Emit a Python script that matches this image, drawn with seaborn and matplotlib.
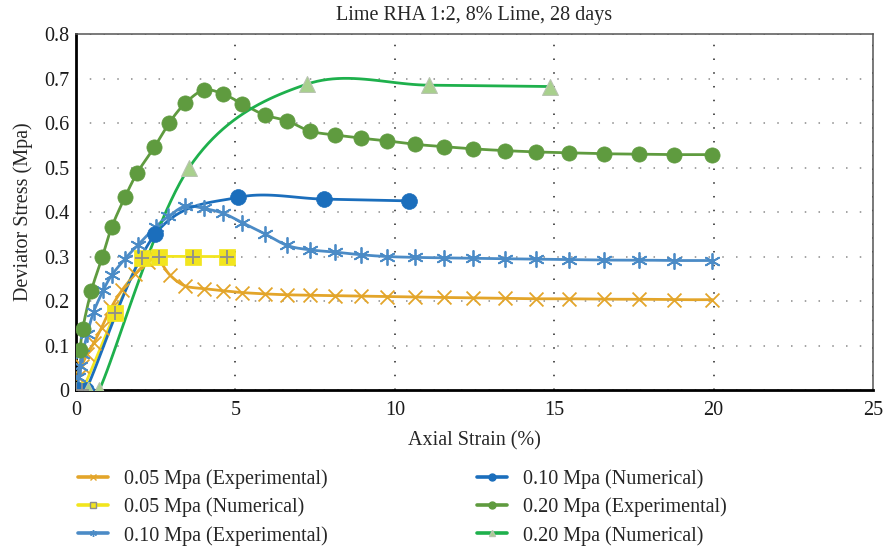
import numpy as np
import pandas as pd
import matplotlib
matplotlib.use("Agg")
import matplotlib.pyplot as plt
from matplotlib.lines import Line2D
from matplotlib.ticker import FuncFormatter
import seaborn as sns

# ---- data: axial strain (%) vs deviator stress (MPa) ----
exp005_x = [0.05, 0.18, 0.35, 0.55, 0.8, 1.1, 1.45, 1.85, 2.25, 2.55, 2.95, 3.42, 4.01, 4.62,
            5.22, 5.92, 6.62, 7.33, 8.12, 8.93, 9.74, 10.64, 11.54, 12.44, 13.45, 14.44,
            15.45, 16.55, 17.66, 18.76, 19.96]
exp005_y = [0.03, 0.055, 0.08, 0.105, 0.14, 0.185, 0.225, 0.26, 0.288, 0.295, 0.258, 0.234,
            0.228, 0.223, 0.219, 0.216, 0.214, 0.213, 0.212, 0.211, 0.21, 0.209, 0.208,
            0.207, 0.206, 0.205, 0.205, 0.204, 0.204, 0.203, 0.203]

num005_x = [0.0, 0.2, 1.22, 2.06, 2.6, 3.68, 4.72]
num005_y = [0.0, 0.0, 0.172, 0.296, 0.30, 0.30, 0.30]

exp010_x = [0.05, 0.12, 0.2, 0.35, 0.55, 0.86, 1.12, 1.54, 1.93, 2.5, 2.9, 3.42, 4.01, 4.62,
            5.22, 5.92, 6.62, 7.33, 8.12, 8.93, 9.74, 10.64, 11.54, 12.44, 13.45, 14.44,
            15.45, 16.55, 17.66, 18.76, 19.96]
exp010_y = [0.03, 0.055, 0.08, 0.125, 0.175, 0.225, 0.258, 0.295, 0.325, 0.367, 0.39, 0.413,
            0.408, 0.397, 0.376, 0.351, 0.325, 0.315, 0.31, 0.304, 0.30, 0.298, 0.297,
            0.296, 0.295, 0.294, 0.293, 0.292, 0.292, 0.291, 0.291]

num010_x = [0.05, 0.31, 2.48, 5.09, 7.77, 10.45]
num010_y = [0.0, 0.0, 0.35, 0.433, 0.429, 0.425]

exp020_x = [0.13, 0.21, 0.48, 0.83, 1.12, 1.54, 1.92, 2.45, 2.93, 3.42, 4.01, 4.62, 5.22,
            5.92, 6.62, 7.33, 8.12, 8.93, 9.74, 10.64, 11.54, 12.44, 13.45, 14.44, 15.45,
            16.55, 17.66, 18.76, 19.96]
exp020_y = [0.09, 0.138, 0.223, 0.30, 0.366, 0.434, 0.488, 0.545, 0.601, 0.644, 0.674,
            0.665, 0.643, 0.618, 0.605, 0.582, 0.573, 0.566, 0.56, 0.552, 0.547, 0.542,
            0.538, 0.535, 0.533, 0.531, 0.53, 0.529, 0.529]

num020_x = [0.37, 0.73, 3.55, 7.23, 11.07, 14.88]
num020_y = [0.0, 0.0, 0.50, 0.687, 0.685, 0.682]

labels = ["0.05 Mpa (Experimental)", "0.05 Mpa (Numerical)", "0.10 Mpa (Experimental)",
          "0.10 Mpa (Numerical)", "0.20 Mpa (Experimental)", "0.20 Mpa (Numerical)"]
x_ticks = [0, 5, 10, 15, 20, 25]
y_ticks = [0, 0.1, 0.2, 0.3, 0.4, 0.5, 0.6, 0.7, 0.8]


def smooth_curve(x, y, n=24):
    """Bezier smoothing through every point (spreadsheet-style smoothed line)."""
    pts = np.column_stack([x, y]).astype(float)
    out = [pts[0]]
    t = np.linspace(0, 1, n)[1:, None]
    for i in range(len(pts) - 1):
        p0 = pts[i - 1] if i > 0 else pts[i]
        p1, p2 = pts[i], pts[i + 1]
        p3 = pts[i + 2] if i + 2 < len(pts) else pts[i + 1]
        c1 = p1 + (p2 - p0) / 6.0
        c2 = p2 - (p3 - p1) / 6.0
        seg = (1 - t) ** 3 * p1 + 3 * (1 - t) ** 2 * t * c1 + 3 * (1 - t) * t ** 2 * c2 + t ** 3 * p2
        out.extend(seg)
    out = np.array(out)
    return out[:, 0], out[:, 1]


sns.set_theme(style="white")
plt.rcParams["font.family"] = ["Liberation Serif", "DejaVu Serif"]

fig = plt.figure(figsize=(8.84, 5.46), dpi=100)
ax = fig.add_axes([0.086, 0.2857, 0.9016, 0.652])

asterisk = (6, 2, 0)
series = [
    # x, y, line colour, marker, marker face, marker edge, size, edge width
    (exp005_x, exp005_y, "#E3A52A", "x", "#E3A52A", "#E3A52A", 100, 1.3),
    (num005_x, num005_y, "#F2E51E", "s", "#F2E51E", "#F2E51E", 120, 0.5),
    (exp010_x, exp010_y, "#4B8BC6", asterisk, "#4B8BC6", "#4B8BC6", 120, 1.3),
    (num010_x, num010_y, "#1B6EBC", "o", "#1B6EBC", "#1B6EBC", 130, 0.5),
    (exp020_x, exp020_y, "#5F9B3F", "o", "#5F9B3F", "#5F9B3F", 120, 0.5),
    (num020_x, num020_y, "#1EB04C", "^", "#A8D08D", "#B8C4B0", 130, 0.8),
]

handles = []
for (xs, ys, lc, mk, mf, me, ms, mew), lab in zip(series, labels):
    sx, sy = smooth_curve(xs, ys)
    sns.lineplot(x=sx, y=sy, sort=False, estimator=None, color=lc, lw=2.0, ax=ax,
                 zorder=2)
    sns.scatterplot(x=xs, y=ys, marker=mk, s=ms, color=mf, edgecolor=me,
                    linewidth=mew, ax=ax, zorder=3)
    if mk == "s":
        sns.scatterplot(x=xs, y=ys, marker="+", s=100, color="#8E8E8E",
                        linewidth=1.3, ax=ax, zorder=4)
    handles.append(Line2D([0], [0], color=lc, lw=2.6, marker=mk, markersize=5,
                          markerfacecolor=mf,
                          markeredgecolor=me if mk != "s" else "#8E8E8E",
                          markeredgewidth=1.0, label=lab))

ax.set_xlim(0, 25)
ax.set_ylim(0, 0.8)
ax.set_xticks(x_ticks)
ax.set_yticks(y_ticks)
ax.yaxis.set_major_formatter(FuncFormatter(lambda v, p: f"{v:g}"))
ax.tick_params(axis="both", length=0, labelsize=14.5, colors="#1a1a1a")
ax.tick_params(axis="x", pad=8)
ax.tick_params(axis="y", pad=5)

ax.grid(True, axis="y", color="#8a8a8a", lw=1.1, linestyle=(0, (1, 8)))
ax.grid(True, axis="x", color="#222222", lw=1.1, linestyle=(0, (1, 8)))
ax.set_axisbelow(True)

for side in ["left", "bottom"]:
    ax.spines[side].set_color("black")
    ax.spines[side].set_linewidth(2.0)
for side in ["top", "right"]:
    ax.spines[side].set_color("#555555")
    ax.spines[side].set_linewidth(1.1)

ax.set_xlabel("Axial Strain (%)", fontsize=14.5, labelpad=8)
ax.set_ylabel("Deviator Stress (Mpa)", fontsize=14.5, labelpad=8)
ax.set_title("Lime RHA 1:2, 8% Lime, 28 days", fontsize=14.5, pad=10)

fig.legend(handles=handles, ncol=2, loc="upper left", bbox_to_anchor=(0.079, 0.155),
           frameon=False, fontsize=14.5, handlelength=1.5, handletextpad=0.8,
           columnspacing=7.4, labelspacing=0.42, borderaxespad=0)

fig.savefig("out.png", dpi=100)
